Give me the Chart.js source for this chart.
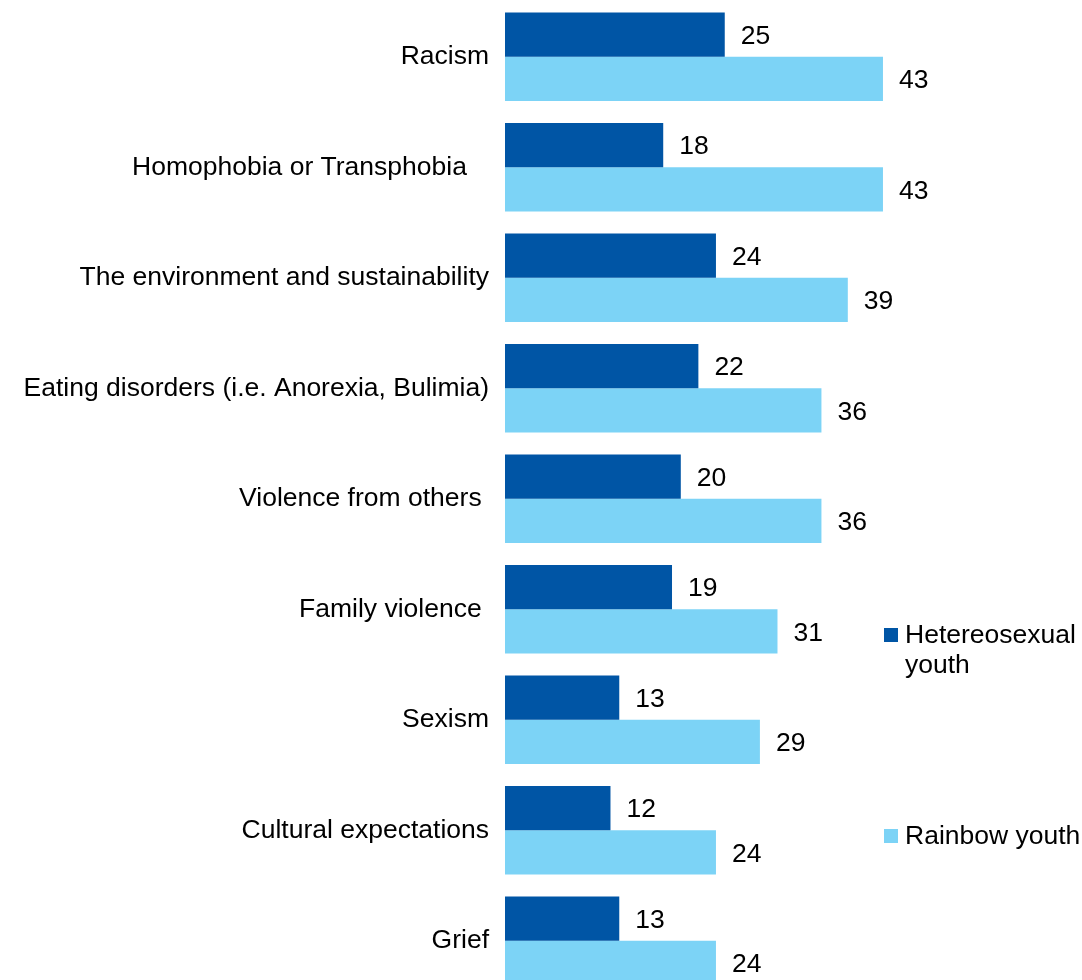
<!DOCTYPE html>
<html>
<head>
<meta charset="utf-8">
<script src="https://cdn.jsdelivr.net/npm/chart.js@4.4.1/dist/chart.umd.min.js"></script>
<style>
  html, body { margin: 0; padding: 0; background: #ffffff; overflow: hidden; }
  #wrap { width: 1082px; height: 1000px; }
</style>
</head>
<body>
<div id="wrap"><canvas id="chart" width="1082" height="1000"></canvas></div>
<script>
// Worries reported by young people (%)
const categories = [
  "Racism",
  "Homophobia or Transphobia   ",
  "The environment and sustainability",
  "Eating disorders (i.e. Anorexia, Bulimia)",
  "Violence from others ",
  "Family violence ",
  "Sexism",
  "Cultural expectations",
  "Grief"
];
const heterosexualYouth = [25, 18, 24, 22, 20, 19, 13, 12, 13];
const rainbowYouth = [43, 43, 39, 36, 36, 31, 29, 24, 24];
const seriesNames = [["Hetereosexual", "youth"], ["Rainbow youth"]];

const FONT = '"Liberation Sans", Arial, Helvetica, sans-serif';
const FONT_SIZE = 26.5;
const DARK = "#0055a5";
const LIGHT = "#7cd3f6";

// Numbers written just past the end of every bar
const valueLabels = {
  id: "valueLabels",
  afterDatasetsDraw(chart) {
    const ctx = chart.ctx;
    ctx.save();
    ctx.font = FONT_SIZE + "px " + FONT;
    ctx.fillStyle = "#000";
    ctx.textAlign = "left";
    ctx.textBaseline = "middle";
    chart.data.datasets.forEach((ds, i) => {
      chart.getDatasetMeta(i).data.forEach((bar, j) => {
        ctx.fillText(String(ds.data[j]), bar.x + 16, bar.y + 2);
      });
    });
    ctx.restore();
  }
};

// Legend stacked down the right-hand side
const sideLegend = {
  id: "sideLegend",
  afterDraw(chart) {
    const ctx = chart.ctx;
    const items = [
      { color: DARK, lines: seriesNames[0], top: 628 },
      { color: LIGHT, lines: seriesNames[1], top: 829 }
    ];
    ctx.save();
    ctx.font = FONT_SIZE + "px " + FONT;
    ctx.textAlign = "left";
    ctx.textBaseline = "alphabetic";
    items.forEach(it => {
      ctx.fillStyle = it.color;
      ctx.fillRect(884, it.top, 14, 14);
      ctx.fillStyle = "#000";
      it.lines.forEach((line, k) => {
        ctx.fillText(line, 905, it.top + 15 + k * 30);
      });
    });
    ctx.restore();
  }
};

new Chart(document.getElementById("chart"), {
  type: "bar",
  data: {
    labels: categories,
    datasets: [
      { label: seriesNames[0].join(" "), data: heterosexualYouth, backgroundColor: DARK,
        categoryPercentage: 0.8, barPercentage: 1.0 },
      { label: seriesNames[1].join(" "), data: rainbowYouth, backgroundColor: LIGHT,
        categoryPercentage: 0.8, barPercentage: 1.0 }
    ]
  },
  options: {
    indexAxis: "y",
    responsive: false,
    animation: false,
    devicePixelRatio: 1,
    layout: { padding: { top: 1.5, bottom: 4, left: 0, right: 137.5 } },
    plugins: {
      legend: { display: false },
      tooltip: { enabled: false }
    },
    scales: {
      x: {
        display: false,
        min: 0,
        max: 50
      },
      y: {
        grid: { display: false, drawTicks: false },
        border: { display: false },
        ticks: {
          color: "#000",
          padding: 16,
          font: { family: FONT, size: FONT_SIZE }
        },
        afterFit(scale) {
          // fixed label column; bands fill the full height
          scale.width = 505;
          scale.paddingTop = 0;
          scale.paddingBottom = 0;
        }
      }
    }
  },
  plugins: [valueLabels, sideLegend]
});
</script>
</body>
</html>
